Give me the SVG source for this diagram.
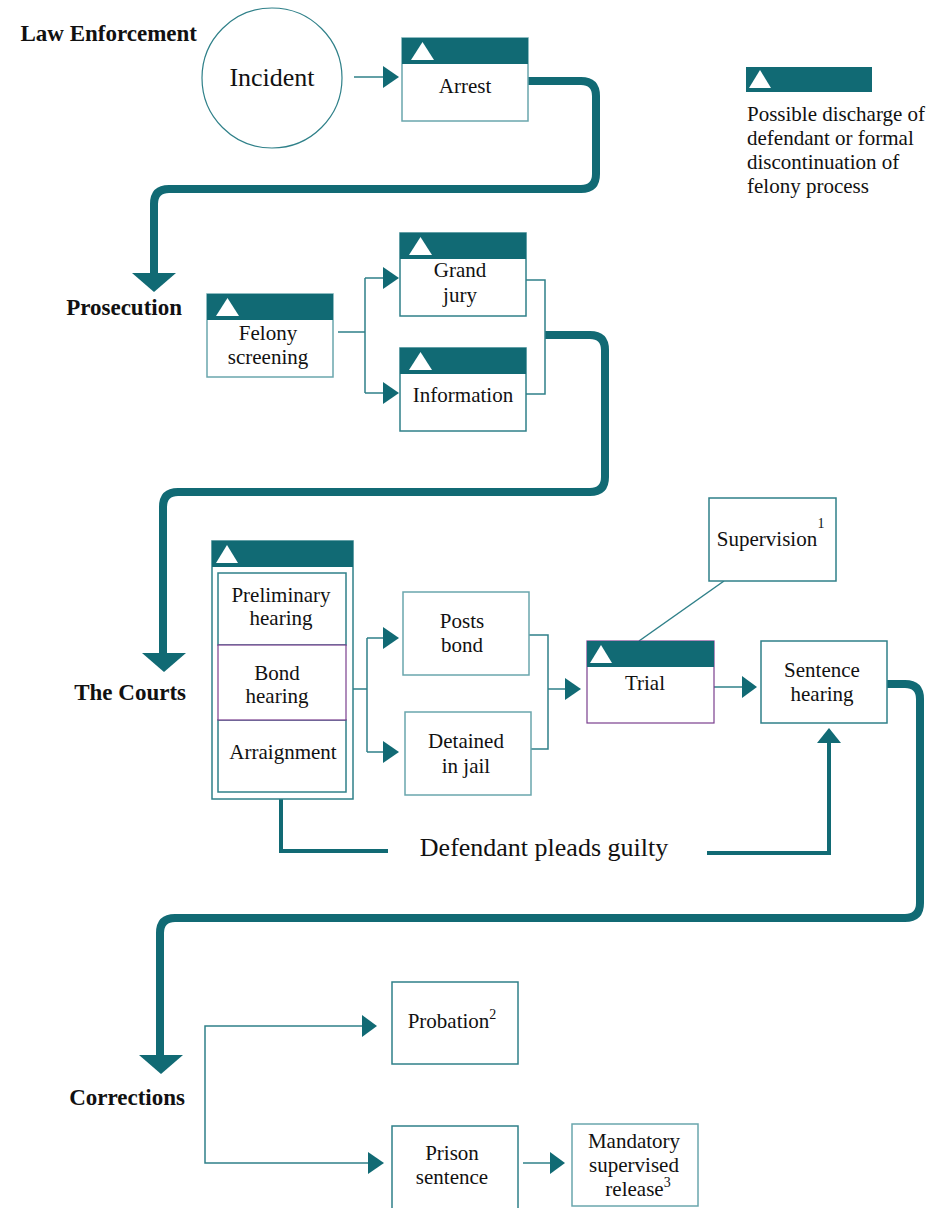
<svg xmlns="http://www.w3.org/2000/svg" width="936" height="1208" viewBox="0 0 936 1208">
<style>
.bg{fill:#ffffff}
.box{fill:#ffffff;stroke:#2f8089;stroke-width:1.5}
.boxl{fill:#ffffff;stroke:#6aa6ad;stroke-width:1.5}
.boxp{fill:#ffffff;stroke:#7a3f8e;stroke-width:1.2}
.hdr{fill:#116a74}
.tri{fill:#ffffff}
.lbl{font-family:"Liberation Serif","DejaVu Serif",serif;font-size:21px;fill:#111;text-anchor:middle}
.sec{font-family:"Liberation Serif","DejaVu Serif",serif;font-size:23px;font-weight:bold;fill:#111;text-anchor:end}
.leg{font-family:"Liberation Serif","DejaVu Serif",serif;font-size:21px;fill:#111}
.thick{fill:none;stroke:#116a74;stroke-width:8}
.mid{fill:none;stroke:#116a74;stroke-width:4}
.thin{fill:none;stroke:#2f8089;stroke-width:1.5}
.ah{fill:#116a74}
</style>
<rect class="bg" x="0" y="0" width="936" height="1208"/>

<g id="section-labels">
<text class="sec" x="197" y="41">Law Enforcement</text>
<text class="sec" x="182" y="315">Prosecution</text>
<text class="sec" x="186" y="700">The Courts</text>
<text class="sec" x="185" y="1105">Corrections</text>
</g>

<g id="connectors">
<path class="thick" d="M528,81 H581 Q596,81 596,96 V174 Q596,189 581,189 H169 Q154,189 154,204 V275"/>
<polygon class="ah" points="132,273 176,273 154,292"/>
<path class="thick" d="M545,335 H590 Q605,335 605,350 V477 Q605,492 590,492 H178 Q163,492 163,507 V655"/>
<polygon class="ah" points="142,653 186,653 164,672"/>
<path class="thick" d="M887,684 H905 Q920,684 920,699 V903 Q920,918 905,918 H175 Q160,918 160,933 V1057"/>
<polygon class="ah" points="139,1055 183,1055 161,1074"/>
<path class="mid" d="M281,799 V851 H388"/>
<path class="mid" d="M707,853 H829 V742"/>
<polygon class="ah" points="817,743 841,743 829,728"/>
<path class="thin" d="M354,77 H385"/>
<polygon class="ah" points="383,66 399,77 383,88"/>
<path class="thin" d="M338,332 H365 M365,278 V393 M365,278 H384 M365,393 H384"/>
<polygon class="ah" points="383,267 399,278 383,289"/>
<polygon class="ah" points="383,382 399,393 383,404"/>
<path class="thin" d="M526,280 H545 V394 H526"/>
<path class="thin" d="M353,689 H367 M367,638 V752 M367,638 H384 M367,752 H384"/>
<polygon class="ah" points="383,627 399,638 383,649"/>
<polygon class="ah" points="383,741 399,752 383,763"/>
<path class="thin" d="M529,635 H548 V749 H531 M548,689 H566"/>
<polygon class="ah" points="565,678 581,689 565,700"/>
<path class="thin" d="M714,687 H743"/>
<polygon class="ah" points="742,676 757,687 742,698"/>
<path class="thin" d="M724,581 L639,641"/>
<path class="thin" d="M363,1026 H205 V1163 H369"/>
<polygon class="ah" points="362,1015 377,1026 362,1037"/>
<polygon class="ah" points="368,1152 384,1163 368,1174"/>
<path class="thin" d="M523,1163 H551"/>
<polygon class="ah" points="550,1152 565,1163 550,1174"/>
</g>

<g id="incident">
<ellipse cx="272" cy="78" rx="70" ry="70" fill="#fff" stroke="#2f8089" stroke-width="1.2"/>
<text class="lbl" x="272" y="86" style="font-size:26px">Incident</text>
</g>

<g id="arrest">
<rect class="boxl" x="402" y="38" width="126" height="83"/>
<rect class="hdr" x="402" y="38" width="126" height="26"/>
<polygon class="tri" points="411,60 434,60 422.5,42"/>
<text class="lbl" x="465" y="93">Arrest</text>
</g>

<g id="legend">
<rect class="hdr" x="746" y="67" width="126" height="25"/>
<polygon class="tri" points="749,88 771,88 760,70"/>
<text class="leg" x="747" y="121">Possible discharge of</text>
<text class="leg" x="747" y="145">defendant or formal</text>
<text class="leg" x="747" y="169">discontinuation of</text>
<text class="leg" x="747" y="193">felony process</text>
</g>

<g id="felony-screening">
<rect class="boxl" x="207" y="294" width="126" height="83"/>
<rect class="hdr" x="207" y="294" width="126" height="26"/>
<polygon class="tri" points="216,316 239,316 227.5,298"/>
<text class="lbl" x="268" y="340">Felony</text>
<text class="lbl" x="268" y="364">screening</text>
</g>

<g id="grand-jury">
<rect class="box" x="400" y="233" width="126" height="83"/>
<rect class="hdr" x="400" y="233" width="126" height="26"/>
<polygon class="tri" points="409,255 432,255 420.5,237"/>
<text class="lbl" x="460" y="277">Grand</text>
<text class="lbl" x="460" y="302">jury</text>
</g>

<g id="information">
<rect class="box" x="400" y="348" width="126" height="83"/>
<rect class="hdr" x="400" y="348" width="126" height="26"/>
<polygon class="tri" points="409,370 432,370 420.5,352"/>
<text class="lbl" x="463" y="402">Information</text>
</g>

<g id="courts-hearings">
<rect class="box" x="212" y="541" width="141" height="258"/>
<rect class="hdr" x="212" y="541" width="141" height="26"/>
<polygon class="tri" points="216,563 238,563 227,545"/>
<rect class="box" x="218" y="573" width="128" height="72"/>
<rect class="box" x="218" y="720" width="128" height="72"/>
<rect class="boxp" x="218" y="645" width="128" height="75"/>
<text class="lbl" x="281" y="602">Preliminary</text>
<text class="lbl" x="281" y="625">hearing</text>
<text class="lbl" x="277" y="680">Bond</text>
<text class="lbl" x="277" y="703">hearing</text>
<text class="lbl" x="283" y="759">Arraignment</text>
</g>

<g id="posts-bond">
<rect class="boxl" x="403" y="592" width="126" height="83"/>
<text class="lbl" x="462" y="628">Posts</text>
<text class="lbl" x="462" y="652">bond</text>
</g>

<g id="detained">
<rect class="boxl" x="405" y="712" width="126" height="83"/>
<text class="lbl" x="466" y="748">Detained</text>
<text class="lbl" x="466" y="773">in jail</text>
</g>

<g id="trial">
<rect class="boxp" x="587" y="641" width="127" height="82" stroke="#9a6aa8"/>
<rect class="hdr" x="587" y="641" width="127" height="26"/>
<polygon class="tri" points="590,663 612,663 601,645"/>
<text class="lbl" x="645" y="690">Trial</text>
</g>

<g id="supervision">
<rect class="box" x="709" y="498" width="127" height="83"/>
<text class="lbl" x="767" y="546">Supervision</text>
<text class="lbl" x="821" y="528" style="font-size:14px">1</text>
</g>

<g id="sentence-hearing">
<rect class="box" x="761" y="641" width="126" height="82"/>
<text class="lbl" x="822" y="677">Sentence</text>
<text class="lbl" x="822" y="701">hearing</text>
</g>

<g id="defendant-pleads">
<text class="lbl" x="544" y="856" style="font-size:26px">Defendant pleads guilty</text>
</g>

<g id="probation">
<rect class="box" x="392" y="982" width="126" height="82"/>
<text class="lbl" x="452" y="1028">Probation<tspan font-size="14" dy="-9">2</tspan></text>
</g>

<g id="prison-sentence">
<rect class="box" x="392" y="1126" width="126" height="86"/>
<text class="lbl" x="452" y="1160">Prison</text>
<text class="lbl" x="452" y="1184">sentence</text>
</g>

<g id="mandatory-release">
<rect class="boxl" x="572" y="1124" width="126" height="82"/>
<text class="lbl" x="634" y="1148">Mandatory</text>
<text class="lbl" x="634" y="1172">supervised</text>
<text class="lbl" x="638" y="1196">release<tspan font-size="14" dy="-9">3</tspan></text>
</g>
</svg>
